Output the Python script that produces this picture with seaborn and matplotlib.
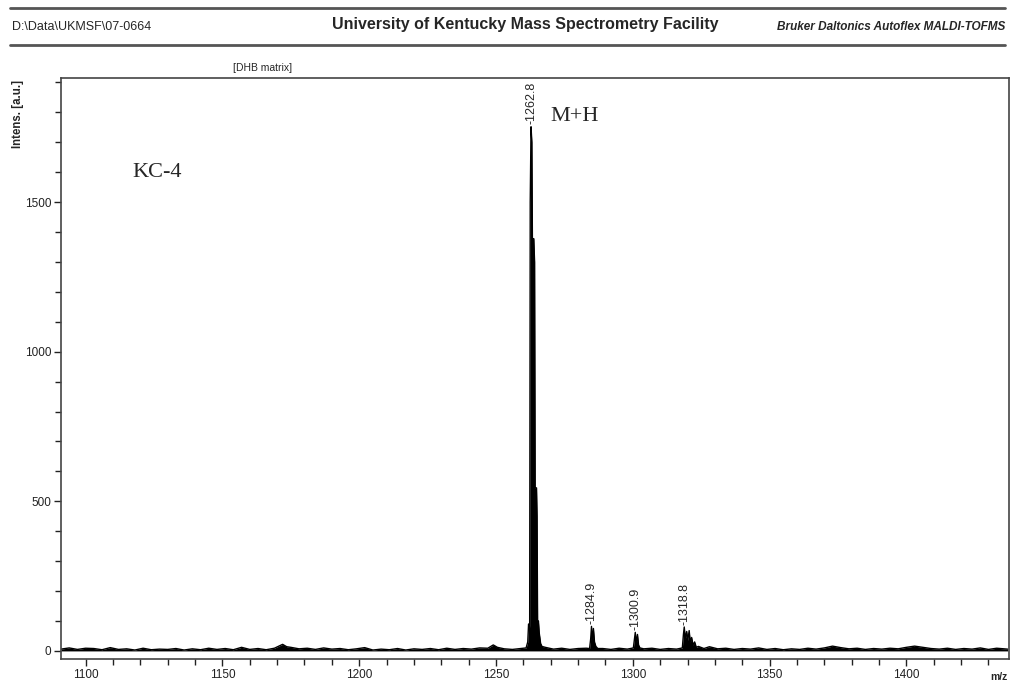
import numpy as np
import pandas as pd
import seaborn as sns
import matplotlib.pyplot as plt
from matplotlib.ticker import MultipleLocator

# spectrum (m/z, intensity a.u.)
mz = [1091, 1094, 1097, 1100, 1103, 1106, 1109, 1112, 1115, 1118, 1121, 1124, 1127,
      1130, 1133, 1136, 1139, 1142, 1145, 1148, 1151, 1154, 1157, 1160, 1163, 1166,
      1169, 1172, 1173.5, 1175, 1178, 1181, 1184, 1187, 1190, 1193, 1196, 1199, 1202,
      1205, 1208, 1211, 1214, 1217, 1220, 1223, 1226, 1229, 1232, 1235, 1238, 1241,
      1244, 1247, 1249, 1250.5, 1253, 1256, 1259,
      1261.0, 1261.6, 1261.9, 1262.3, 1262.5, 1262.8, 1263.1, 1263.3, 1263.8,
      1264.1, 1264.3, 1264.8, 1265.0, 1265.2, 1265.5, 1265.8, 1266.3, 1266.8,
      1268, 1271, 1274, 1277, 1280, 1283,
      1284.2, 1284.6, 1284.9, 1285.2, 1285.6, 1286.0, 1286.5, 1287.2,
      1289, 1292, 1295, 1298,
      1300.2, 1300.6, 1300.9, 1301.3, 1301.7, 1302.1, 1302.6,
      1304, 1307, 1310, 1313, 1316,
      1318.1, 1318.5, 1318.8, 1319.2, 1319.7, 1320.1, 1320.6, 1321.0, 1321.5, 1322.0,
      1322.6, 1323.2, 1324.0,
      1326, 1328, 1331, 1334, 1337, 1340, 1343, 1346, 1349, 1352, 1355, 1358, 1361,
      1364, 1367, 1370, 1373, 1376, 1379, 1382, 1385, 1388, 1391, 1394, 1397, 1400,
      1403, 1406, 1409, 1412, 1415, 1418, 1421, 1424, 1427, 1430, 1433, 1437]
intens = [6, 10, 5, 9, 8, 4, 11, 5, 7, 3, 9, 4, 6,
          5, 8, 3, 7, 4, 9, 5, 8, 4, 12, 5, 8, 4,
          9, 22, 14, 12, 7, 9, 5, 10, 6, 8, 4, 7, 11,
          3, 6, 4, 8, 3, 7, 5, 8, 4, 9, 5, 8, 6,
          10, 9, 20, 12, 7, 5, 8,
          10, 30, 90, 80, 1500, 1752, 1700, 1378, 1378,
          1300, 545, 545, 450, 90, 100, 60, 25, 15,
          12, 6, 9, 5, 8, 9,
          8, 40, 82, 30, 75, 30, 15, 8,
          8, 5, 9, 6,
          10, 40, 62, 25, 55, 20, 10,
          7, 9, 5, 8, 6,
          10, 55, 80, 40, 65, 35, 68, 30, 45, 20,
          30, 12, 15,
          8, 14, 7, 9, 5, 8, 6, 10, 5, 8, 4, 7, 5,
          9, 6, 10, 16, 11, 7, 9, 5, 8, 6, 9, 7, 12,
          16, 12, 8, 6, 9, 5, 8, 6, 10, 5, 9, 6]

peak_mz = [1262.8, 1284.9, 1300.9, 1318.8]
peak_int = [1752, 82, 62, 80]
peak_lbl = ["1262.8", "1284.9", "1300.9", "1318.8"]

df = pd.DataFrame({"m/z": mz, "Intens": intens})

sns.set_theme(style="ticks")
plt.rcParams['font.family'] = ['Liberation Sans', 'DejaVu Sans']

fig = plt.figure(figsize=(10.12, 6.83), dpi=100)
ax = fig.add_axes([61 / 1012, 24 / 683, 948 / 1012, 581 / 683])

sns.lineplot(data=df, x="m/z", y="Intens", ax=ax, color="black", linewidth=1.0,
             estimator=None, sort=False)
ax.fill_between(df["m/z"], 0, df["Intens"], color="black", linewidth=0)

ax.set_xlim(1091, 1437.5)
ax.set_ylim(-27, 1915)
ax.xaxis.set_major_locator(MultipleLocator(50))
ax.xaxis.set_minor_locator(MultipleLocator(10))
ax.yaxis.set_major_locator(MultipleLocator(500))
ax.yaxis.set_minor_locator(MultipleLocator(100))
ax.tick_params(which="major", length=5, width=1, labelsize=8.5, pad=2, colors="#222222")
ax.tick_params(which="minor", length=4, width=1, colors="#222222")
ax.set_xlabel("")
ax.set_ylabel("")
for s in ax.spines.values():
    s.set_linewidth(1.2)
    s.set_color("#444444")

# peak annotations
for x, y, t in zip(peak_mz, peak_int, peak_lbl):
    ax.text(x, y + 8, "-" + t, rotation=90, ha="center", va="bottom", fontsize=9)

ax.text(1117, 1600, "KC-4", family="Liberation Serif", fontsize=16, va="center")
ax.text(1270, 1785, "M+H", family="Liberation Serif", fontsize=16, va="center")

# header of the printout
fig.add_artist(plt.Line2D([10 / 1012, 1005 / 1012], [1 - 8 / 683, 1 - 8 / 683],
                          color="#555555", linewidth=2))
fig.add_artist(plt.Line2D([10 / 1012, 1005 / 1012], [1 - 45 / 683, 1 - 45 / 683],
                          color="#555555", linewidth=2))
fig.text(12 / 1012, 1 - 27 / 683, "D:\\Data\\UKMSF\\07-0664", fontsize=9, va="center")
fig.text(525 / 1012, 1 - 24 / 683, "University of Kentucky Mass Spectrometry Facility",
         fontsize=11.5, fontweight="bold", ha="center", va="center")
fig.text(1005 / 1012, 1 - 27 / 683, "Bruker Daltonics Autoflex MALDI-TOFMS",
         fontsize=8.5, fontweight="bold", style="italic", ha="right", va="center")
fig.text(233 / 1012, 1 - 68 / 683, "[DHB matrix]", fontsize=7.5, va="center")
fig.text(18 / 1012, 1 - 80 / 683, "Intens. [a.u.]", fontsize=8.3, fontweight="bold",
         rotation=90, ha="center", va="top")
fig.text(1008 / 1012, 1 - 677 / 683, "m/z", fontsize=7.5, fontweight="bold",
         ha="right", va="center")

fig.savefig("out.png", dpi=100)
